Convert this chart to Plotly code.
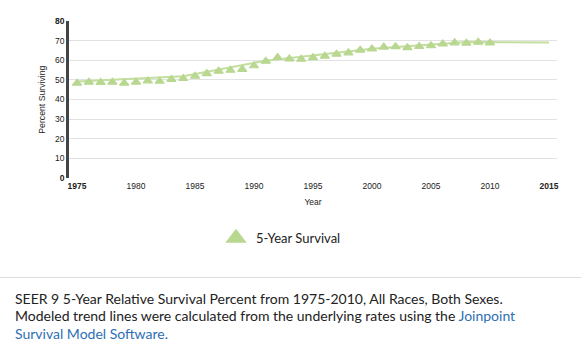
import plotly.graph_objects as go

# ---- data ----
years = list(range(1975, 2011))
survival = [48.3, 48.8, 48.7, 48.8, 48.3, 48.8, 49.5, 49.3, 50.2, 50.7,
            51.9, 53.2, 54.4, 54.9, 55.4, 57.2, 59.5, 61.4, 60.7, 60.5,
            61.3, 62.1, 63.1, 63.8, 65.1, 65.8, 66.7, 66.9, 66.4, 67.0,
            67.4, 68.3, 68.9, 68.7, 69.2, 68.8]
trend_years = [1975, 1984, 1991, 2000, 2008, 2015]
trend_values = [49.2, 51.8, 59.8, 65.9, 69.3, 69.1]
x_ticks = [1975, 1980, 1985, 1990, 1995, 2000, 2005, 2010, 2015]
x_ticktext = ["<b>1975</b>", "1980", "1985", "1990", "1995", "2000", "2005", "2010", "<b>2015</b>"]
y_ticks = [0, 10, 20, 30, 40, 50, 60, 70, 80]
y_ticktext = ["<b>0</b>", "10", "20", "30", "40", "50", "60", "70", "<b>80</b>"]
series_name = "5-Year Survival"
caption_lines = [
    "SEER 9 5-Year Relative Survival Percent from 1975-2010, All Races, Both Sexes.",
    "Modeled trend lines were calculated from the underlying rates using the <span style='color:#2e6fb5'>Joinpoint</span>",
    "<span style='color:#2e6fb5'>Survival Model Software.</span>",
]

GREEN = "#b8d790"
LINE_GREEN = "#c3de9f"

W, H = 581, 345
L, R, T, B = 69, 24, 21, 167
PW = W - L - R
PH = H - T - B


def px_x(px):
    return (px - L) / PW


def px_y(py):
    return (H - B - py) / PH


fig = go.Figure()
fig.add_trace(go.Scatter(
    x=trend_years, y=trend_values, mode="lines",
    line=dict(color=LINE_GREEN, width=2), showlegend=False, hoverinfo="skip"))
fig.add_trace(go.Scatter(
    x=years, y=survival, mode="markers", name=series_name,
    marker=dict(symbol="triangle-up", size=8, color=GREEN,
                line=dict(color=GREEN, width=1.2)),
    showlegend=False))
# legend entry (larger symbol, as in the reference)
fig.add_trace(go.Scatter(
    x=[None], y=[None], mode="markers", name=series_name,
    marker=dict(symbol="triangle-up", size=16, color=GREEN,
                line=dict(color=GREEN, width=1.5)),
    showlegend=True))

fig.update_layout(
    width=W, height=H,
    margin=dict(l=L, r=R, t=T, b=B, pad=0),
    paper_bgcolor="white", plot_bgcolor="white",
    font=dict(family="Liberation Sans, Arial, sans-serif", size=8.5, color="#222"),
    showlegend=True,
    legend=dict(orientation="h", x=px_x(216), y=px_y(238), xanchor="left", yanchor="middle",
                font=dict(family="Lato, sans-serif", size=13, color="#222"),
                bgcolor="rgba(0,0,0,0)", itemsizing="trace"),
    xaxis=dict(range=[1974.32, 2015.68], tickvals=x_ticks, ticktext=x_ticktext,
               showgrid=False, zeroline=False, showline=True, linecolor="white", linewidth=1,
               ticks="", tickfont=dict(size=8.5, color="#222"),
               title=dict(text="Year", font=dict(size=8.5, color="#222"), standoff=8)),
    yaxis=dict(range=[0, 80], tickvals=y_ticks, ticktext=y_ticktext,
               showgrid=True, gridcolor="#e2e2e2", gridwidth=1, zeroline=False,
               showline=True, linecolor="#444", linewidth=2.5,
               ticks="", tickfont=dict(size=8.5, color="#222")),
)

fig.add_annotation(text="Percent Surviving", textangle=-90, xref="paper", yref="paper",
                   x=px_x(41.7), y=px_y(100), xanchor="center", yanchor="middle",
                   showarrow=False, font=dict(size=8.7, color="#222"))

fig.add_shape(type="line", xref="paper", yref="paper",
              x0=px_x(0), x1=px_x(W), y0=px_y(277.5), y1=px_y(277.5),
              line=dict(color="#dddddd", width=1))

caption_centers = [298, 315.5, 333]
for line, cy in zip(caption_lines, caption_centers):
    fig.add_annotation(text=line, xref="paper", yref="paper",
                       x=px_x(12.5), y=px_y(cy), xanchor="left", yanchor="middle",
                       showarrow=False, align="left",
                       font=dict(family="Lato, sans-serif", size=14, color="#222"))

fig.write_html("out.html")
